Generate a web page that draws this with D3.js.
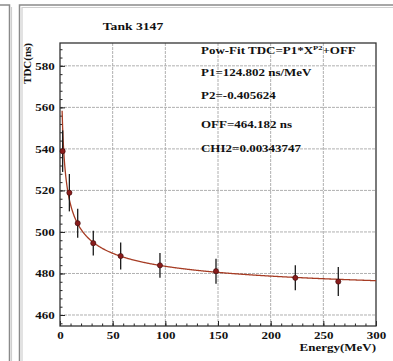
<!DOCTYPE html>
<html><head><meta charset="utf-8">
<script src="https://cdn.jsdelivr.net/npm/d3@7"></script>
<style>
html,body{margin:0;padding:0;background:#fff;}
svg{display:block;}
svg text{font-family:"Liberation Serif","Times New Roman",serif;font-weight:bold;}
</style></head><body>
<svg id="chart" width="393" height="361"></svg>
<script>
// Measured TDC peak position vs. deposited energy for one tank
const energy = [2.5, 8.9, 16.8, 31.6, 57.6, 94.9, 148.1, 223.4, 264.2];
const tdc    = [538.9, 518.9, 504.2, 494.6, 488.4, 483.9, 481.1, 477.9, 476.1];
const tdcErr = [10, 9, 7, 6, 6.5, 6, 6, 6, 7];

// Power-law fit: TDC = P1 * E^P2 + OFF
const fitP1 = 124.802, fitP2 = -0.405624, fitOff = 464.182, fitChi2 = 0.00343747;
const fitRange = [2, 300];

const xDomain = [0, 300];
const yDomain = [454.7, 591];
const xTicks = [0, 50, 100, 150, 200, 250, 300];
const yTicks = [460, 480, 500, 520, 540, 560, 580];
const xMinorStep = 10, yMinorStep = 4;

const title = "Tank 3147";
const xTitle = "Energy(MeV)";
const yTitle = "TDC(ns)";
const statLines = [
  `P1=${fitP1} ns/MeV`,
  `P2=${fitP2}`,
  `OFF=${fitOff} ns`,
  `CHI2=${fitChi2}`
];

const FONT = '"Liberation Serif", "Times New Roman", serif';
const SX = 1.3; // horizontal glyph stretch of the canvas text
const svg = d3.select("#chart");
const plot = {left: 60, right: 376, top: 43, bottom: 326};

const x = d3.scaleLinear().domain(xDomain).range([plot.left, plot.right]);
const y = d3.scaleLinear().domain(yDomain).range([plot.bottom, plot.top]);

// pad borders (neighbouring pad edge and this pad)
const border = svg.append("g").attr("fill", "none");
border.append("path").attr("d", "M0,5H9.5V361").attr("stroke", "#8a8a8a").attr("stroke-width", 1.5);
border.append("path").attr("d", "M11.5,7V361").attr("stroke", "#cfcfcf").attr("stroke-width", 1.2);
border.append("path").attr("d", "M19.5,361V5H393").attr("stroke", "#8a8a8a").attr("stroke-width", 1.5);
border.append("path").attr("d", "M22,361V7.5H393").attr("stroke", "#cfcfcf").attr("stroke-width", 1.2);

// grid
const grid = svg.append("g").attr("stroke", "#b0b0b0").attr("stroke-width", 1).attr("stroke-dasharray", "3,1");
grid.selectAll("line.gx").data(xTicks.filter(v => v > xDomain[0] && v < xDomain[1])).join("line")
  .attr("x1", d => x(d)).attr("x2", d => x(d)).attr("y1", plot.top).attr("y2", plot.bottom);
grid.selectAll("line.gy").data(yTicks).join("line")
  .attr("y1", d => y(d)).attr("y2", d => y(d)).attr("x1", plot.left).attr("x2", plot.right);

// minor ticks (inside the frame)
const xMinor = d3.range(xDomain[0], xDomain[1] + 0.001, xMinorStep);
const yMinor = d3.range(456, yDomain[1], yMinorStep);
svg.append("g").attr("transform", `translate(0,${plot.bottom})`)
  .call(d3.axisBottom(x).tickValues(xMinor).tickSize(-2.5).tickFormat(""))
  .call(g => g.select(".domain").remove())
  .selectAll("line").attr("stroke", "#222");
svg.append("g").attr("transform", `translate(${plot.left},0)`)
  .call(d3.axisLeft(y).tickValues(yMinor).tickSize(-2.5).tickFormat(""))
  .call(g => g.select(".domain").remove())
  .selectAll("line").attr("stroke", "#222");

// major ticks + labels
const xAxis = svg.append("g").attr("transform", `translate(0,${plot.bottom})`)
  .call(d3.axisBottom(x).tickValues(xTicks).tickSize(-5).tickPadding(5.5).tickFormat(d3.format("d")));
xAxis.attr("font-family", FONT);
xAxis.select(".domain").remove();
xAxis.selectAll("line").attr("stroke", "#222");
xAxis.selectAll("text").attr("font-size", 10).attr("fill", "#111")
  .attr("transform", `scale(${SX},1)`);

const yAxis = svg.append("g").attr("transform", `translate(${plot.left},0)`)
  .call(d3.axisLeft(y).tickValues(yTicks).tickSize(-5).tickPadding(4).tickFormat(d3.format("d")));
yAxis.attr("font-family", FONT);
yAxis.select(".domain").remove();
yAxis.selectAll("line").attr("stroke", "#222");
yAxis.selectAll("text").attr("font-size", 10).attr("fill", "#111")
  .attr("transform", `scale(${SX},1)`);

// frame
svg.append("rect").attr("x", plot.left).attr("y", plot.top)
  .attr("width", plot.right - plot.left).attr("height", plot.bottom - plot.top)
  .attr("fill", "none").attr("stroke", "#333").attr("stroke-width", 1.3);

// fitted curve
const fitX = d3.range(fitRange[0], fitRange[1], 0.5).concat([fitRange[1]]);
const fitLine = d3.line().x(d => x(d)).y(d => y(fitP1 * Math.pow(d, fitP2) + fitOff));
svg.append("path").datum(fitX).attr("d", fitLine)
  .attr("fill", "none").attr("stroke", "#a63c24").attr("stroke-width", 1.3);

// data points with error bars
const pts = energy.map((e, i) => ({e, t: tdc[i], s: tdcErr[i]}));
const pg = svg.append("g");
pg.selectAll("line").data(pts).join("line")
  .attr("x1", d => x(d.e)).attr("x2", d => x(d.e))
  .attr("y1", d => y(d.t - d.s)).attr("y2", d => y(d.t + d.s))
  .attr("stroke", "#1a1a1a").attr("stroke-width", 1.3);
pg.selectAll("circle").data(pts).join("circle")
  .attr("cx", d => x(d.e)).attr("cy", d => y(d.t)).attr("r", 2.6)
  .attr("fill", "#8a1c1c").attr("stroke", "#3a0c0c").attr("stroke-width", 0.6);

// text helpers
function stretchedText(px, py, str, size, anchor) {
  return svg.append("g").attr("transform", `translate(${px},${py})`)
    .append("text").attr("transform", `scale(${SX},1)`)
    .attr("font-family", FONT).attr("font-weight", "bold")
    .attr("font-size", size).attr("text-anchor", anchor || "start").attr("fill", "#111").text(str);
}

// title and axis titles
stretchedText(133, 30, title, 10.5, "middle");
stretchedText(plot.right, 351, xTitle, 10, "end");
svg.append("text").attr("transform", `translate(31,${plot.top}) rotate(-90)`)
  .attr("font-family", FONT).attr("font-weight", "bold")
  .attr("font-size", 11).attr("text-anchor", "end").attr("fill", "#111").text(yTitle);

// fit statistics
const header = stretchedText(201, 53.5, "Pow-Fit TDC=P1*X", 10, "start");
header.append("tspan").attr("font-size", 6.5).attr("dy", -4).text("P2");
header.append("tspan").attr("dy", 4).text("+OFF");
const statY = [75.5, 98.5, 127.5, 151.5];
statLines.forEach((s, i) => stretchedText(201, statY[i], s, 10, "start"));
</script>
</body></html>
